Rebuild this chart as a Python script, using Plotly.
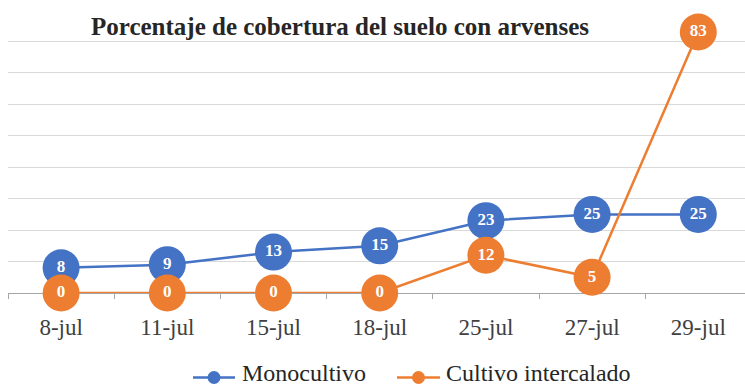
import plotly.graph_objects as go

fechas = ["8-jul", "11-jul", "15-jul", "18-jul", "25-jul", "27-jul", "29-jul"]
monocultivo = [8, 9, 13, 15, 23, 25, 25]
intercalado = [0, 0, 0, 0, 12, 5, 83]
series = [("Monocultivo", monocultivo, "#4472C4"),
          ("Cultivo intercalado", intercalado, "#ED7D31")]

SERIF = "Liberation Serif, Times New Roman, serif"

W, H = 745, 387
left, top, bottom = 8, 10.3, 94.3
cat_w = 106.2
x_max = -0.5 + (W - left) / cat_w
plot_h = H - top - bottom


def px_x(px):
    return (px - left) / (W - left)


def px_y(py):
    return (H - bottom - py) / plot_h


fig = go.Figure()
for nombre, valores, color in series:
    fig.add_trace(go.Scatter(
        x=fechas, y=valores, name=nombre, mode="lines+markers+text",
        line=dict(color=color, width=2.5),
        marker=dict(size=37, color=color),
        text=[str(v) for v in valores], textposition="middle center",
        textfont=dict(family=SERIF, size=17, color="white", weight="bold"),
        cliponaxis=False, showlegend=False,
    ))

fig.add_annotation(
    text="<b>Porcentaje de cobertura del suelo con arvenses</b>",
    xref="paper", yref="paper", x=px_x(340), y=px_y(27),
    xanchor="center", yanchor="middle",
    showarrow=False, font=dict(family=SERIF, size=25, color="#262626"),
)

# legend below the axis: line sample with a dot, then the series name
legend_y = 377
legend_items = [(193, 235, 240), (397, 440, 444)]
for (nombre, _, color), (x0, x1, xt) in zip(series, legend_items):
    fig.add_shape(type="line", xref="paper", yref="paper",
                  x0=px_x(x0), x1=px_x(x1), y0=px_y(legend_y), y1=px_y(legend_y),
                  line=dict(color=color, width=2.5))
    fig.add_shape(type="circle", xref="paper", yref="paper",
                  xsizemode="pixel", ysizemode="pixel",
                  xanchor=px_x((x0 + x1) / 2), yanchor=px_y(legend_y),
                  x0=-6.5, x1=6.5, y0=-6.5, y1=6.5,
                  fillcolor=color, line=dict(color=color, width=0))
    fig.add_annotation(text=nombre, xref="paper", yref="paper",
                       x=px_x(xt), y=px_y(373), xanchor="left", yanchor="middle",
                       showarrow=False,
                       font=dict(family=SERIF, size=24, color="#262626"))

fig.update_layout(
    width=W, height=H,
    margin=dict(l=left, r=0, t=top, b=bottom, autoexpand=False),
    paper_bgcolor="white", plot_bgcolor="white",
    font=dict(family=SERIF, color="#262626"),
    showlegend=False,
    xaxis=dict(type="category", range=[-0.5, x_max], automargin=False,
               layer="below traces",
               showgrid=False, showline=True, linecolor="#A6A6A6", linewidth=1.2,
               ticks="outside", tickson="boundaries", ticklen=5, tickcolor="#A6A6A6",
               ticklabelstandoff=13,
               tickfont=dict(family=SERIF, size=23, color="#404040"),
               fixedrange=True),
    yaxis=dict(range=[0, 90], dtick=10, showgrid=True, gridcolor="#D9D9D9",
               gridwidth=1, showticklabels=False, zeroline=False, ticks="",
               automargin=False, layer="below traces"),
)

fig.write_html("out.html")
